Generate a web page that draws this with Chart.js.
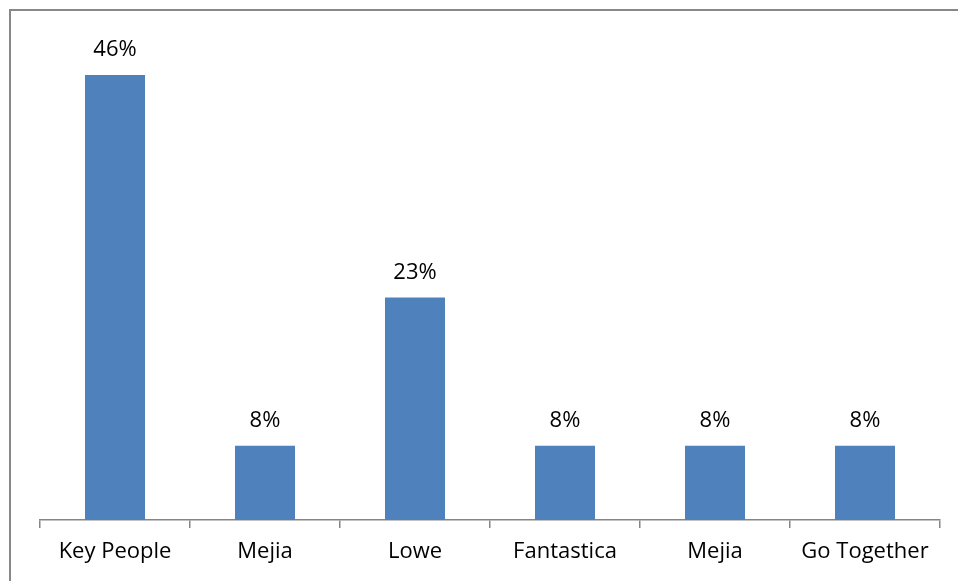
<!DOCTYPE html>
<html>
<head>
<meta charset="utf-8">
<script src="https://cdn.jsdelivr.net/npm/chart.js@4/dist/chart.umd.min.js"></script>
<style>
  html, body { margin: 0; padding: 0; background: #fff; }
  canvas { display: block; }
</style>
</head>
<body>
<canvas id="bars" width="958" height="581"></canvas>
<script>
const categories = ['Key People', 'Mejia', 'Lowe', 'Fantastica', 'Mejia', 'Go Together'];
const shares = [46.15, 7.69, 23.08, 7.69, 7.69, 7.69];

// frame + value labels above the bars
const framePlugin = {
    id: 'frame',
    beforeDraw(chart) {
        const c = chart.ctx;
        c.save();
        c.fillStyle = '#fff';
        c.fillRect(0, 0, chart.width, chart.height);
        c.strokeStyle = '#888';
        c.lineWidth = 2;
        c.strokeRect(10, 10, chart.width + 10, chart.height + 10);
        c.restore();
    },
    afterDatasetsDraw(chart) {
        const c = chart.ctx;
        const meta = chart.getDatasetMeta(0);
        c.save();
        c.fillStyle = '#000';
        c.font = '22px "Open Sans"';
        c.textAlign = 'center';
        c.textBaseline = 'alphabetic';
        meta.data.forEach(function (bar, i) {
            c.fillText(Math.round(shares[i]) + '%', bar.x, bar.y - 19);
        });
        c.restore();
    }
};

const ctx = document.getElementById('bars');
new Chart(ctx, {
    type: 'bar',
    data: {
        labels: categories,
        datasets: [{
            data: shares,
            backgroundColor: '#4F81BD',
            categoryPercentage: 1,
            barPercentage: 0.4
        }]
    },
    options: {
        responsive: false,
        animation: false,
        layout: { padding: { left: 40, right: 18, top: 38, bottom: 0 } },
        plugins: {
            legend: { display: false },
            tooltip: { enabled: false }
        },
        scales: {
            y: {
                display: false,
                min: 0,
                max: 50
            },
            x: {
                afterFit(scale) { scale.height = 61; },
                border: { color: '#868686', width: 1.5 },
                grid: {
                    offset: true,
                    drawOnChartArea: false,
                    drawTicks: true,
                    tickLength: 8,
                    color: '#868686',
                    lineWidth: 1.5
                },
                ticks: {
                    color: '#000',
                    padding: 11,
                    font: { family: '"Open Sans"', size: 22 }
                }
            }
        }
    },
    plugins: [framePlugin]
});
</script>
</body>
</html>
